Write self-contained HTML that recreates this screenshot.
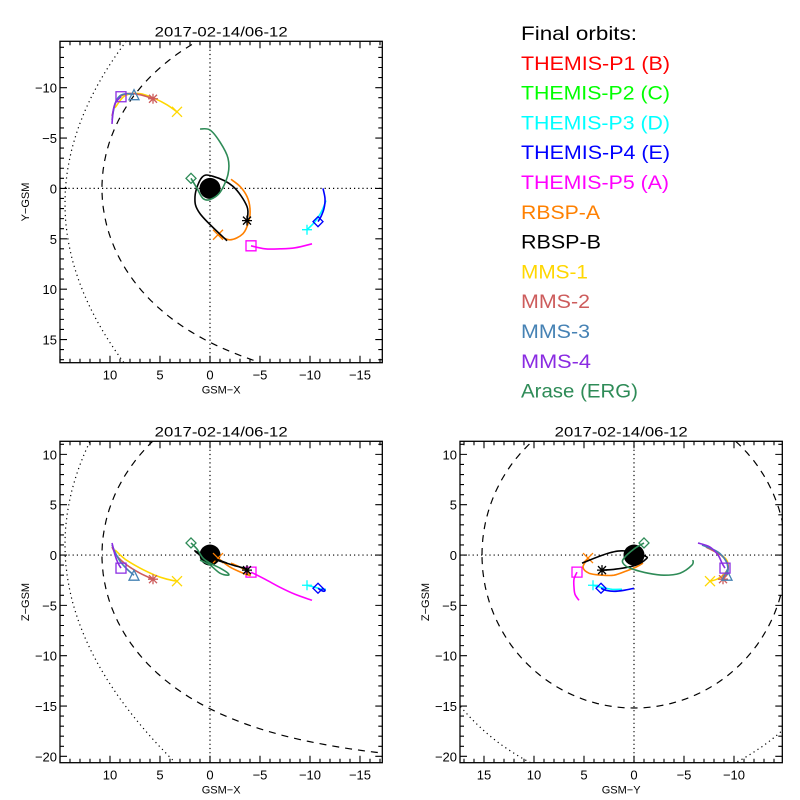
<!DOCTYPE html>
<html><head><meta charset="utf-8"><style>
html,body{margin:0;padding:0;background:#fff;overflow:hidden;width:800px;height:800px;}
svg{display:block;font-family:"Liberation Sans",sans-serif;overflow:hidden;}
</style></head><body>
<svg id="chart" width="800" height="800" viewBox="0 0 800 800" xmlns="http://www.w3.org/2000/svg">
<rect x="0" y="0" width="800" height="800" fill="#fff"/>
<g id="legend"></g>
<g id="panels"></g>
</svg>
<script>
// ---- legend data ----
const legendLabels = ["Final orbits:","THEMIS-P1 (B)","THEMIS-P2 (C)","THEMIS-P3 (D)","THEMIS-P4 (E)","THEMIS-P5 (A)","RBSP-A","RBSP-B","MMS-1","MMS-2","MMS-3","MMS-4","Arase (ERG)"];
const legendColors = ["#000","#ff0000","#00ff00","#00ffff","#0000ff","#ff00ff","#ff8000","#000000","#ffd700","#cd5c5c","#4682b4","#8a2be2","#2e8b57"];
const legendWidths = [116,149,149,149,149,148,79,80,67,69,69,70,117];

// ---- spacecraft tracks (GSM, Re); marker at first point ----
const names = ["THEMIS-P3","THEMIS-P4","THEMIS-P5","RBSP-A","RBSP-B","Arase","MMS-1","MMS-2","MMS-3","MMS-4"];
const colors = ["#00ffff","#0000ff","#ff00ff","#ff8000","#000000","#2e8b57","#ffd700","#cd5c5c","#4682b4","#8a2be2"];
const markers = ["plus","diamond","square","x","star","diamond","x","star","triangle","square"];
const trackX = [
 [-9.7,-10.5,-11.2,-11.6],
 [-10.8,-11.1,-11.4,-11.5,-11.3],
 [-4.1,-5.5,-7.0,-8.5,-10.2],
 [-0.8,-2.0,-3.3,-3.9,-4.0,-3.7,-3.0,-2.1],
 [-3.7,-3.7,-2.3,-0.3,0.8,1.5,1.0,-1.7],
 [1.9,1.3,0.7,0,-1.0,-1.8,-1.8,-1.0,0,1.0],
 [3.3,4.3,5.5,7.0,8.5,9.5],
 [5.7,7.0,8.3,9.3,9.8],
 [7.6,8.3,9.0,9.5,9.8],
 [8.9,9.2,9.5,9.7,9.8]
];
const trackY = [
 [4.1,3.3,2.2,1.2],
 [3.3,2.8,2.0,1.0,0.0],
 [5.7,6.0,6.0,5.9,5.5],
 [4.6,5.1,4.5,3.2,2.0,0.8,-0.2,-0.9],
 [3.2,1.8,-0.2,-1.2,-1.1,0.8,2.5,5.2],
 [-1.0,0,1.0,1.1,0.4,-1.4,-3.0,-4.6,-5.8,-5.9],
 [-7.6,-8.3,-8.9,-9.4,-9.2,-8.0],
 [-8.9,-9.3,-9.4,-8.8,-7.2],
 [-9.3,-9.4,-9.2,-8.4,-6.8],
 [-9.1,-8.8,-8.4,-7.6,-6.4]
];
const trackZ = [
 [-3.0,-3.2,-3.4,-3.4],
 [-3.3,-3.5,-3.6,-3.5,-3.3],
 [-1.7,-2.4,-3.2,-3.9,-4.5],
 [-0.3,-1.2,-1.8,-2.0,-2.0,-1.6,-1.2,-0.8],
 [-1.5,-1.4,-1.0,-0.4,-0.1,0.4,0.2,-0.8],
 [1.2,0.6,-0.3,-0.8,-1.3,-1.8,-2.0,-1.8,-1.0,-0.5],
 [-2.6,-2.4,-2.0,-1.3,-0.4,0.5],
 [-2.4,-1.8,-1.0,-0.1,0.8],
 [-2.0,-1.4,-0.6,0.3,1.0],
 [-1.3,-0.8,0.0,0.8,1.2]
];
// ---- tick labels ----
const xTicks = [10,5,0,-5,-10,-15];
const yTicksTop = [-10,-5,0,5,10,15];
const zTicks = [10,5,0,-5,-10,-15,-20];
const yTicksBR = [15,10,5,0,-5,-10];
const titleText = "2017-02-14/06-12";

const NS="http://www.w3.org/2000/svg";
const svg=document.getElementById('chart');
function mk(tag,attrs,parent){const e=document.createElementNS(NS,tag);for(const k in attrs)e.setAttribute(k,attrs[k]);(parent||svg).appendChild(e);return e;}
const fmt=v=>v<0?"\u2212"+(-v):String(v);
function spline(P){
  if(P.length<3)return 'M'+P.map(q=>q[0].toFixed(1)+','+q[1].toFixed(1)).join('L');
  let d='M'+P[0][0].toFixed(1)+','+P[0][1].toFixed(1);
  for(let i=0;i<P.length-1;i++){
    const p0=P[Math.max(0,i-1)],p1=P[i],p2=P[i+1],p3=P[Math.min(P.length-1,i+2)];
    const c1=[p1[0]+(p2[0]-p0[0])/6,p1[1]+(p2[1]-p0[1])/6];
    const c2=[p2[0]-(p3[0]-p1[0])/6,p2[1]-(p3[1]-p1[1])/6];
    d+=`C${c1[0].toFixed(1)},${c1[1].toFixed(1)} ${c2[0].toFixed(1)},${c2[1].toFixed(1)} ${p2[0].toFixed(1)},${p2[1].toFixed(1)}`;
  }
  return d;
}

// legend
const lg=document.getElementById('legend');
legendLabels.forEach((t,i)=>{
  const e=mk('text',{x:521,y:40+29.8*i,fill:legendColors[i],'font-size':19,textLength:legendWidths[i],lengthAdjust:'spacingAndGlyphs'},lg);
  
  
  e.textContent=t;
});

// panels
const panels=[
 {name:'xy-panel',L:60,T:41.3,W:322.3,H:321.4,h:'x',v:'y',hL:15,hR:-17.23,vT:-14.6,vB:17.3,hT:xTicks,vTk:yTicksTop,hTitle:'GSM\u2212X',vTitle:'Y\u2212GSM',hMin:-17,hMax:15,vMin:-14,vMax:17},
 {name:'xz-panel',L:60,T:441.3,W:322.3,H:321.4,h:'x',v:'z',hL:15,hR:-17.23,vT:11.3,vB:-20.63,hT:xTicks,vTk:zTicks,hTitle:'GSM\u2212X',vTitle:'Z\u2212GSM',hMin:-17,hMax:15,vMin:-20,vMax:11},
 {name:'yz-panel',L:460,T:441.3,W:322.3,H:321.4,h:'y',v:'z',hL:17.4,hR:-14.83,vT:11.3,vB:-20.63,hT:yTicksBR,vTk:zTicks,hTitle:'GSM\u2212Y',vTitle:'Z\u2212GSM',hMin:-14,hMax:17,vMin:-20,vMax:11}
];
const pg=document.getElementById('panels');
panels.forEach(p=>{
  const g=mk('g',{},pg);
  
  
  const sx=v=>p.L+(v-p.hL)/(p.hR-p.hL)*p.W;
  const sy=v=>p.T+(v-p.vT)/(p.vB-p.vT)*p.H;
  const defs=mk('clipPath',{id:'clip-'+p.name},g);
  mk('rect',{x:p.L,y:p.T,width:p.W,height:p.H},defs);
  const inner=mk('g',{'clip-path':'url(#clip-'+p.name+')'},g);
  const zl=mk('g',{stroke:'#000','stroke-width':1.2,'stroke-dasharray':'1.2 3'},inner);
  
  
  mk('line',{x1:sx(0),y1:p.T,x2:sx(0),y2:p.T+p.H},zl);
  mk('line',{x1:p.L,y1:sy(0),x2:p.L+p.W,y2:sy(0)},zl);
  let mp=[],bs=[];
  if(p.name!=='yz-panel'){
    for(let th=-170;th<=170;th+=2){const t=th*Math.PI/180;const r=10.8*Math.sqrt(2/(1+Math.cos(t)));mp.push([r*Math.cos(t),r*Math.sin(t)]);}
    const c=p.v==='y'?1.5:1.0;
    for(let s=-30;s<=30;s+=0.5){bs.push([14.5-0.0236*s*s,s+c]);}
  }else{
    for(let a=0;a<=360;a+=2){const t=a*Math.PI/180;mp.push([15.2*Math.cos(t),15.2*Math.sin(t)]);}
    for(let a=0;a<=360;a+=1){const t=a*Math.PI/180;bs.push([0.1+22.5*Math.cos(t),-0.6+22.5*Math.sin(t)]);}
  }
  const mpEl=mk('path',{d:'M'+mp.map(q=>sx(q[0]).toFixed(1)+','+sy(q[1]).toFixed(1)).join('L'),fill:'none',stroke:'#000','stroke-width':1.2,'stroke-dasharray':'7 6'},inner);
  
  
  const bsEl=mk('path',{d:'M'+bs.map(q=>sx(q[0]).toFixed(1)+','+sy(q[1]).toFixed(1)).join('L'),fill:'none',stroke:'#000','stroke-width':1.2,'stroke-dasharray':'1.2 3.5'},inner);
  
  
  const earth=mk('circle',{cx:sx(0),cy:sy(0),r:10.5,fill:'#000'},inner);
  
  
  const comp={x:trackX,y:trackY,z:trackZ};
  names.forEach((n,i)=>{
    const H=comp[p.h][i],V=comp[p.v][i];
    const pts=H.map((h,k)=>[sx(h),sy(V[k])]);
    const tr=mk('path',{d:spline(pts),fill:'none',stroke:colors[i],'stroke-width':1.6,'stroke-linejoin':'round'},inner);
    
    
    const mx=sx(H[0]),my=sy(V[0]),c=colors[i],s=5;
    let d='';
    if(markers[i]==='square')d=`M${mx-s},${my-s}h${2*s}v${2*s}h${-2*s}Z`;
    else if(markers[i]==='diamond')d=`M${mx},${my-s}L${mx+s},${my}L${mx},${my+s}L${mx-s},${my}Z`;
    else if(markers[i]==='triangle')d=`M${mx},${my-s}L${mx+s},${my+s}L${mx-s},${my+s}Z`;
    else if(markers[i]==='plus')d=`M${mx-s},${my}h${2*s}M${mx},${my-s}v${2*s}`;
    else if(markers[i]==='x')d=`M${mx-s},${my-s}L${mx+s},${my+s}M${mx-s},${my+s}L${mx+s},${my-s}`;
    else d=`M${mx-s},${my}h${2*s}M${mx},${my-s}v${2*s}M${mx-4},${my-4}L${mx+4},${my+4}M${mx-4},${my+4}L${mx+4},${my-4}`;
    const m=mk('path',{d:d,fill:'none',stroke:c,'stroke-width':1.3},inner);
    
    
  });
  const fr=mk('rect',{x:p.L,y:p.T,width:p.W,height:p.H,fill:'none',stroke:'#000','stroke-width':1.3},g);
  
  
  let td='';
  for(let v=p.hMin;v<=p.hMax;v++){const X=sx(v),len=(v%5===0)?7:4;td+=`M${X},${p.T+p.H}v${-len}M${X},${p.T}v${len}`;}
  for(let v=p.vMin;v<=p.vMax;v++){const Y=sy(v),len=(v%5===0)?7:4;td+=`M${p.L},${Y}h${len}M${p.L+p.W},${Y}h${-len}`;}
  const tk=mk('path',{d:td,stroke:'#000','stroke-width':1.1,fill:'none'},g);
  
  
  p.hT.forEach(v=>{const e=mk('text',{x:sx(v),y:p.T+p.H+17,'text-anchor':'middle','font-size':13},g);
    
    
    e.textContent=fmt(v);});
  p.vTk.forEach(v=>{const e=mk('text',{x:p.L-3,y:sy(v)+5,'text-anchor':'end','font-size':13},g);
    
    
    e.textContent=fmt(v);});
  const t=mk('text',{x:p.L+p.W/2,y:p.T-5,'text-anchor':'middle','font-size':14,textLength:133,lengthAdjust:'spacingAndGlyphs'},g);
  
  
  t.textContent=titleText;
  const ht=mk('text',{x:p.L+p.W/2,y:p.T+p.H+31,'text-anchor':'middle','font-size':11},g);
  
  
  ht.textContent=p.hTitle;
  const cy=p.T+p.H/2;
  const vt=mk('text',{x:p.L-31,y:cy,'text-anchor':'middle','font-size':11,transform:`rotate(-90 ${p.L-31} ${cy})`},g);
  
  
  vt.textContent=p.vTitle;
});
</script>
</body></html>
